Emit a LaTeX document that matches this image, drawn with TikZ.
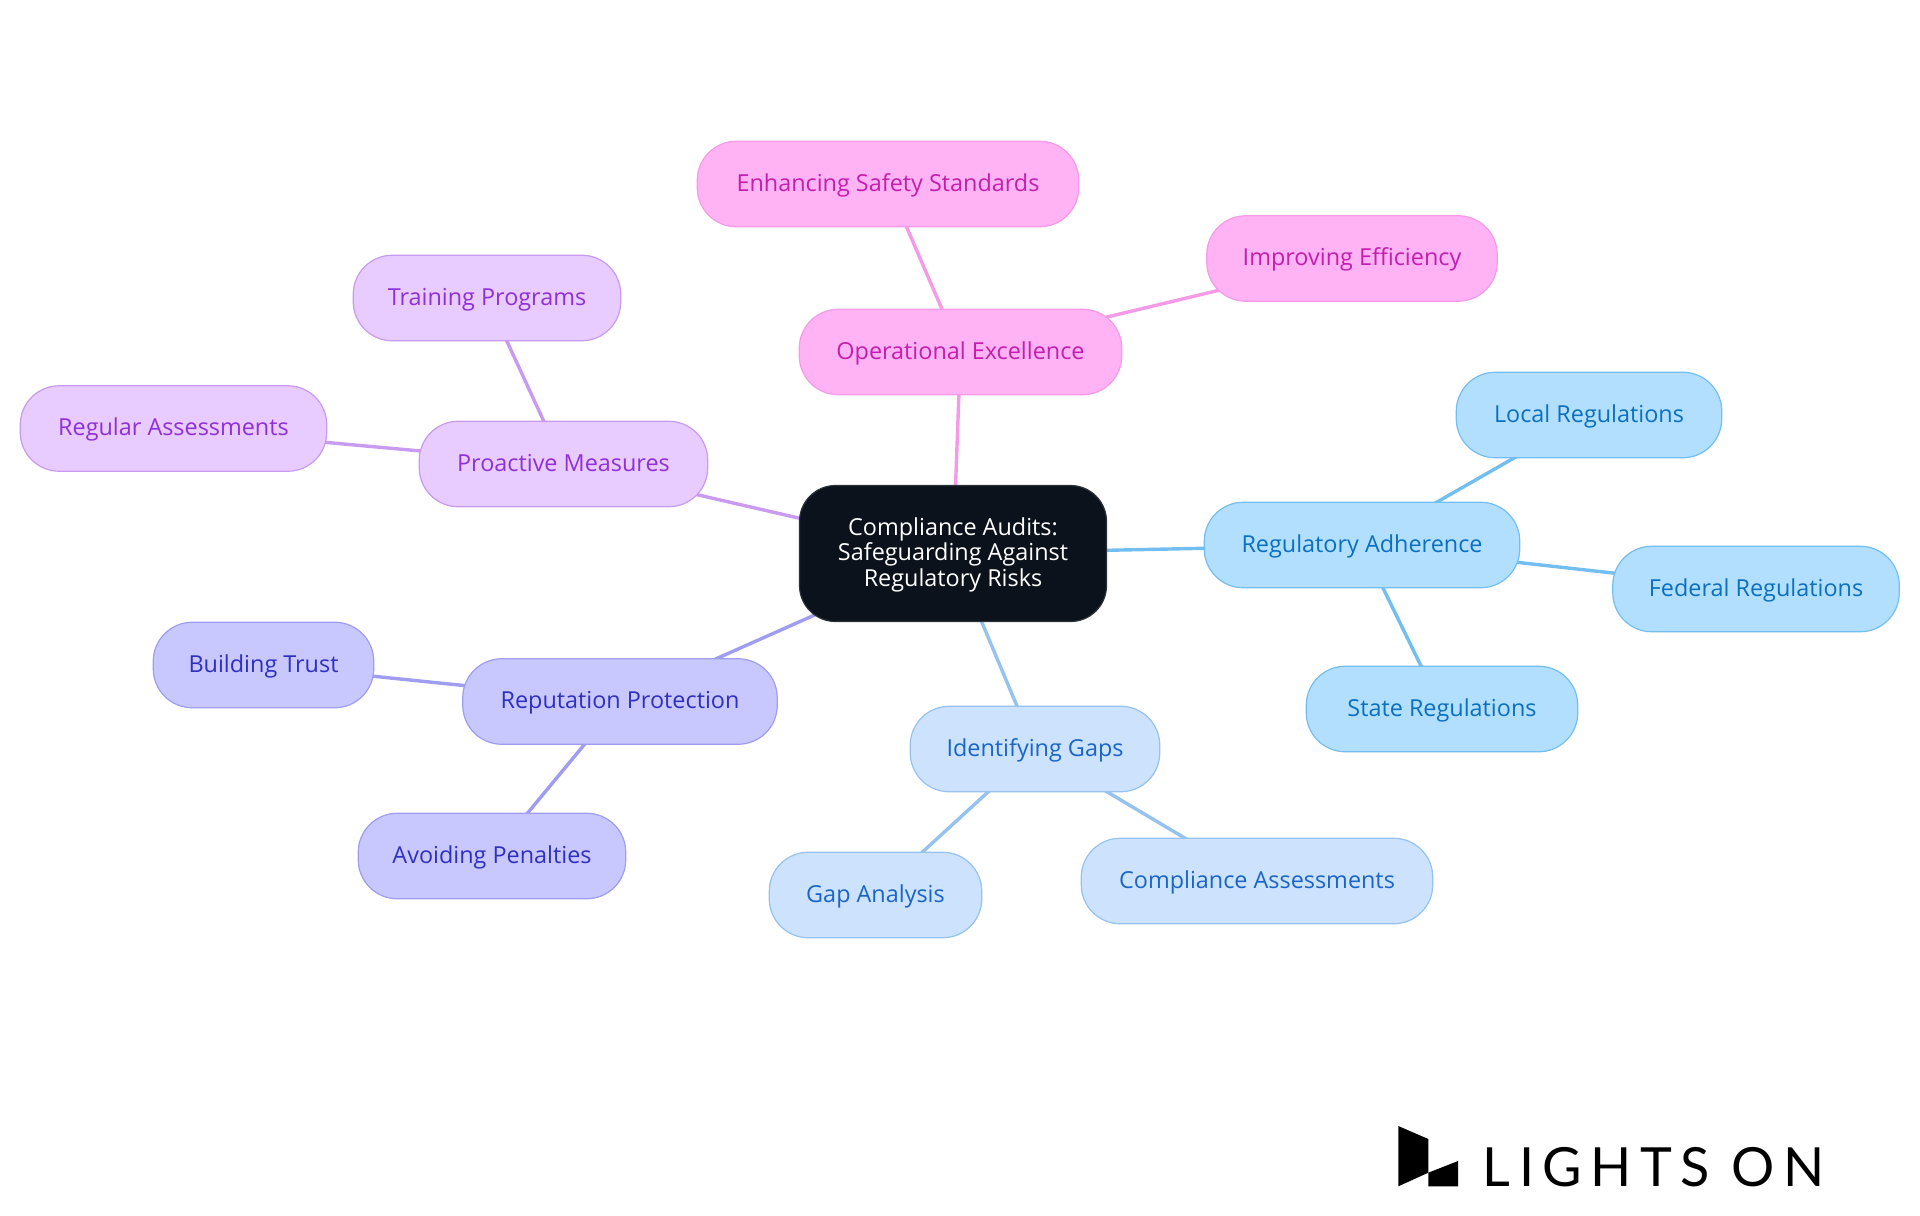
\documentclass[tikz,border=0pt]{standalone}
\usepackage{fontspec}
\usepackage{xcolor}
\usetikzlibrary{backgrounds}
\setmainfont{Open Sans}
\newfontfamily\logofont[LetterSpace=15.5]{Lato}
\definecolor{rootfill}{RGB}{11,18,27}
\definecolor{rootline}{RGB}{44,50,58}
\definecolor{pinkfill}{RGB}{255,179,245}
\definecolor{pinkline}{RGB}{245,154,230}
\definecolor{pinktext}{RGB}{196,30,174}
\definecolor{violetfill}{RGB}{232,203,255}
\definecolor{violetline}{RGB}{200,154,240}
\definecolor{violettext}{RGB}{144,48,216}
\definecolor{indigofill}{RGB}{200,200,255}
\definecolor{indigoline}{RGB}{160,156,240}
\definecolor{indigotext}{RGB}{48,48,192}
\definecolor{paleblue}{RGB}{204,226,253}
\definecolor{palebline}{RGB}{150,194,240}
\definecolor{palebtext}{RGB}{26,102,200}
\definecolor{skyfill}{RGB}{179,223,255}
\definecolor{skyline}{RGB}{115,190,240}
\definecolor{skytext}{RGB}{10,112,192}
\tikzset{
  topic/.style={rounded corners=19.5pt, minimum height=42.75pt, inner sep=0pt, line width=0.6pt,
    text height=10pt, text depth=2.7pt, font=\fontsize{11.7}{13}\selectfont},
  pinkbox/.style={topic, fill=pinkfill, draw=pinkline, text=pinktext},
  violetbox/.style={topic, fill=violetfill, draw=violetline, text=violettext},
  indigobox/.style={topic, fill=indigofill, draw=indigoline, text=indigotext},
  palebox/.style={topic, fill=paleblue, draw=palebline, text=palebtext},
  skybox/.style={topic, fill=skyfill, draw=skyline, text=skytext},
  link/.style={line width=1.7pt}
}
\begin{document}
\begin{tikzpicture}[x=0.5pt,y=-0.5pt]
\useasboundingbox (0,0) rectangle (1920,1215);

\node[rounded corners=18pt, fill=rootfill, draw=rootline, line width=0.6pt, text=white,
  minimum width=153.5pt, minimum height=68pt, inner sep=0pt, align=center,
  font=\fontsize{11.7}{12.9}\selectfont] (root) at (953,553.5)
  {\rule{0pt}{10.2pt}Compliance Audits:\\Safeguarding Against\\Regulatory Risks};

\node[pinkbox, minimum width=161.25pt] (excellence) at (960.5,352) {Operational Excellence};
\node[pinkbox, minimum width=190.75pt] (safety) at (888,184) {Enhancing Safety Standards};
\node[pinkbox, minimum width=145.25pt] (efficiency) at (1352,258.5) {Improving Efficiency};

\node[skybox, minimum width=157.75pt] (adherence) at (1362,545) {Regulatory Adherence};
\node[skybox, minimum width=132.75pt] (local) at (1589,415) {Local Regulations};
\node[skybox, minimum width=143.25pt] (federal) at (1756,589) {Federal Regulations};
\node[skybox, minimum width=135.75pt] (state) at (1442,709) {State Regulations};

\node[palebox, minimum width=124.75pt] (gaps) at (1035,749) {Identifying Gaps};
\node[palebox, minimum width=106.25pt] (analysis) at (875.5,895) {Gap Analysis};
\node[palebox, minimum width=175.75pt] (assess) at (1257,881) {Compliance Assessments};

\node[indigobox, minimum width=157.25pt] (reputation) at (620,701.5) {Reputation Protection};
\node[indigobox, minimum width=110.25pt] (trust) at (263.5,665) {Building Trust};
\node[indigobox, minimum width=133.75pt] (penalties) at (492,856) {Avoiding Penalties};

\node[violetbox, minimum width=144.25pt] (proactive) at (563.5,464) {Proactive Measures};
\node[violetbox, minimum width=133.75pt] (training) at (487,298) {Training Programs};
\node[violetbox, minimum width=153.25pt] (regular) at (173.5,428.5) {Regular Assessments};

\begin{scope}[on background layer]
\foreach \from/\to/\col in {root/excellence/pinkline, excellence/safety/pinkline, excellence/efficiency/pinkline,
    root/adherence/skyline, adherence/local/skyline, adherence/federal/skyline, adherence/state/skyline,
    root/gaps/palebline, gaps/analysis/palebline, gaps/assess/palebline,
    root/reputation/indigoline, reputation/trust/indigoline, reputation/penalties/indigoline,
    root/proactive/violetline, proactive/training/violetline, proactive/regular/violetline}
  \draw[link, \col] (\from.center) -- (\to.center);
\end{scope}

% logo
\fill (1398.3,1126) -- (1428.3,1139) -- (1428.3,1172.7) -- (1398.3,1186.3) -- cycle;
\fill (1428.3,1172.7) -- (1458,1161) -- (1458,1186.3) -- (1428.3,1186.3) -- cycle;
\node[anchor=base west, inner sep=0pt, font=\logofont\fontsize{27}{27}\selectfont] (brand) at (1482.5,1186.5) {LIGHTS ON};
\end{tikzpicture}
\end{document}
